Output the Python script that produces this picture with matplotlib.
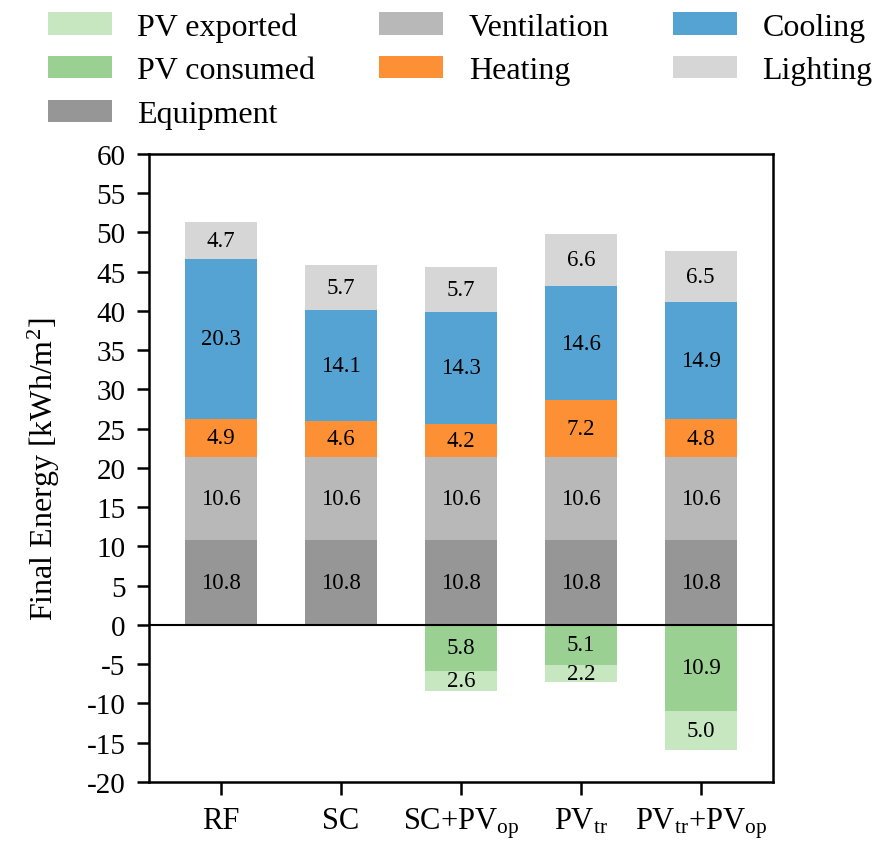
import matplotlib
matplotlib.use('Agg')
import matplotlib.pyplot as plt
import numpy as np

# scenarios and energy components [kWh/m2]
cases = ['RF', 'SC', 'SC+PV$_{\\mathregular{op}}$', 'PV$_{\\mathregular{tr}}$',
         'PV$_{\\mathregular{tr}}$+PV$_{\\mathregular{op}}$']
equipment = [10.8, 10.8, 10.8, 10.8, 10.8]
ventilation = [10.6, 10.6, 10.6, 10.6, 10.6]
heating = [4.9, 4.6, 4.2, 7.2, 4.8]
cooling = [20.3, 14.1, 14.3, 14.6, 14.9]
lighting = [4.7, 5.7, 5.7, 6.6, 6.5]
pv_consumed = [0.0, 0.0, 5.8, 5.1, 10.9]
pv_exported = [0.0, 0.0, 2.6, 2.2, 5.0]

plt.rcParams['font.family'] = ['Liberation Serif', 'DejaVu Serif']
plt.rcParams['mathtext.fontset'] = 'custom'
plt.rcParams['mathtext.rm'] = 'Liberation Serif'
plt.rcParams['mathtext.it'] = 'Liberation Serif:italic'
plt.rcParams['axes.unicode_minus'] = False

fig = plt.figure(figsize=(8.72, 8.45), dpi=100)
ax = fig.add_axes([0.171, 0.0734, 0.715, 0.7432])

x = np.arange(len(cases))
w = 0.6

def add_labels(bars, vals, bottoms):
    for b, v, bt in zip(bars, vals, bottoms):
        if v == 0:
            continue
        yc = bt + b.get_height() / 2
        ax.text(b.get_x() + b.get_width() / 2, yc, '%.1f' % abs(v),
                ha='center', va='center', fontsize=16.5)

bottom = np.zeros(len(cases))
pos_series = [('Equipment', equipment, '#969696'),
              ('Ventilation', ventilation, '#b8b8b8'),
              ('Heating', heating, '#fd8f35'),
              ('Cooling', cooling, '#55a3d3'),
              ('Lighting', lighting, '#d6d6d6')]
handles = {}
for name, vals, col in pos_series:
    vals = np.array(vals)
    bars = ax.bar(x, vals, w, bottom=bottom, color=col, label=name)
    add_labels(bars, vals, bottom)
    handles[name] = bars
    bottom = bottom + vals

neg_bottom = np.zeros(len(cases))
for name, vals, col in [('PV consumed', pv_consumed, '#9bd093'),
                        ('PV exported', pv_exported, '#c6e7c0')]:
    vals = -np.array(vals)
    bars = ax.bar(x, vals, w, bottom=neg_bottom, color=col, label=name)
    add_labels(bars, vals, neg_bottom)
    handles[name] = bars
    neg_bottom = neg_bottom + vals

ax.axhline(0, color='black', lw=1.5)
ax.set_xlim(-0.6, 4.6)
ax.set_ylim(-20, 60)
ax.set_yticks(np.arange(-20, 61, 5))
ax.set_xticks(x)
ax.set_xticklabels(cases)
ax.tick_params(width=1.8, length=9, pad=8)
ax.tick_params(axis='y', labelsize=21)
ax.tick_params(axis='x', labelsize=22)
for s in ax.spines.values():
    s.set_linewidth(1.8)
ax.set_ylabel('Final Energy [kWh/m$^2$]', fontsize=23, labelpad=18)

order = ['PV exported', 'PV consumed', 'Equipment', 'Ventilation', 'Heating',
         'Cooling', 'Lighting']
fig.legend([handles[k] for k in order], order, loc='upper left',
           bbox_to_anchor=(48 / 872, 1 - 13 / 845), ncol=3, frameon=False,
           fontsize=23, handlelength=2.0, handleheight=0.7, handletextpad=0.8,
           columnspacing=2.0, labelspacing=0.45, borderpad=0, borderaxespad=0)

fig.savefig('out.png', dpi=100)
